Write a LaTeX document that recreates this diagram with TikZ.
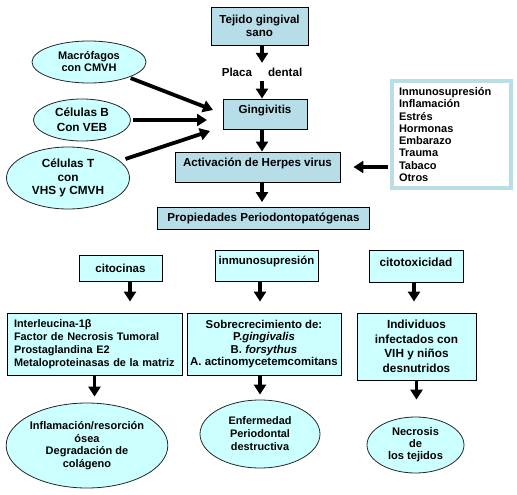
\documentclass[tikz,border=0pt]{standalone}
\usepackage{fontspec}
\setmainfont{Liberation Sans}
\usetikzlibrary{arrows.meta,shapes.geometric}
\definecolor{boxteal}{RGB}{183,221,232}
\definecolor{boxcyan}{RGB}{204,255,255}
\definecolor{listrim}{RGB}{186,222,230}

\begin{document}
\begin{tikzpicture}[x=1pt,y=-1pt,
    box/.style={draw,line width=0.9pt,fill=boxteal,inner sep=0pt,align=center,
      font=\fontsize{11.6}{13}\selectfont\bfseries},
    cbox/.style={box,fill=boxcyan},
    bubble/.style={ellipse,draw=black!85,line width=0.8pt,fill=boxcyan,inner sep=0pt,align=center,
      font=\fontsize{11.2}{12.8}\selectfont\bfseries},
    blk/.style={line width=3.8pt,-{Triangle[width=12pt,length=10pt]}}]

    \useasboundingbox (0,0) rectangle (517,495);

    \node [box,minimum width=97pt,minimum height=38pt] (tejido) at (259.5,26) {Tejido gingival\\sano};
    \node [inner sep=0pt,minimum height=18pt,font=\fontsize{11.6}{13}\selectfont\bfseries] (placa) at (262,72) {Placa\hspace{16pt}dental};
    \node [box,minimum width=84pt,minimum height=30pt,text depth=10pt] (gingivitis) at (265,114) {Gingivitis};
    \node [box,minimum width=165pt,minimum height=30pt,text depth=10pt] (activacion) at (257.5,167) {Activación de Herpes virus};
    \node [box,minimum width=212pt,minimum height=22pt] (propiedades) at (263.5,218.5) {Propiedades Periodontopatógenas};
    \coordinate (spine) at (262,0);

    \node [bubble,minimum width=114pt,minimum height=42pt,font=\fontsize{11}{12}\selectfont\bfseries] (macrofagos) at (89,62) {Macrófagos\\con CMVH};
    \node [bubble,minimum width=97pt,minimum height=42pt,font=\fontsize{11.8}{15}\selectfont\bfseries] (celulasb) at (82,120) {Células B\\Con VEB};
    \node [bubble,minimum width=123pt,minimum height=62pt,font=\fontsize{11.8}{13.5}\selectfont\bfseries] (celulast) at (68,178) {Células T\\con\\VHS y CMVH};
    \coordinate (gm) at (213,110);
    \coordinate (gb) at (207,120);
    \coordinate (gt) at (210,131);

    \node [draw=listrim,line width=4pt,fill=white,inner sep=0pt,minimum width=119pt,minimum height=107pt,
      text width=105pt,align=left,font=\fontsize{11}{12.3}\selectfont\bfseries] (lista) at (451.5,134.5)
      {Inmunosupresión\\Inflamación\\Estrés\\Hormonas\\Embarazo\\Trauma\\Tabaco\\Otros};

    \node [cbox,minimum width=83pt,minimum height=26pt] (citocinas) at (120.5,268) {citocinas};
    \node [cbox,minimum width=103pt,minimum height=31pt,text depth=9.4pt,font=\fontsize{11.4}{13}\selectfont\bfseries] (inmuno) at (266.5,265.5) {inmunosupresión};
    \node [cbox,minimum width=94pt,minimum height=32pt,text depth=8pt,font=\fontsize{11.8}{13}\selectfont\bfseries] (citotox) at (416,266) {citotoxicidad};

    \node [cbox,minimum width=175pt,minimum height=62pt,text width=161pt,align=left,font=\fontsize{10.9}{12.8}\selectfont\bfseries] (interleucina) at (94.5,344)
      {Interleucina-1β\\Factor de Necrosis Tumoral\\Prostaglandina E2\\Metaloproteinasas de la matriz};
    \node [cbox,minimum width=154pt,minimum height=62pt,font=\fontsize{11.4}{12.5}\selectfont\bfseries] (sobre) at (264,344)
      {Sobrecrecimiento de:\\P.\textit{gingivalis}\\B. \textit{forsythus}\\A. actinomycetemcomitans};
    \node [cbox,minimum width=119pt,minimum height=67pt,font=\fontsize{11.8}{14.5}\selectfont\bfseries] (individuos) at (416.5,346.5)
      {Individuos\\infectados con\\VIH y niños\\desnutridos};

    \node [bubble,minimum width=160pt,minimum height=85pt,font=\fontsize{11}{12.7}\selectfont\bfseries] (inflamacion) at (87,445.5)
      {Inflamación/resorción\\ósea\\Degradación de\\colágeno};
    \node [bubble,minimum width=120pt,minimum height=68pt,font=\fontsize{10.9}{13}\selectfont\bfseries] (enfermedad) at (260,434)
      {Enfermedad\\Periodontal\\destructiva};
    \node [bubble,minimum width=97pt,minimum height=56pt,font=\fontsize{11.1}{12}\selectfont\bfseries] (necrosis) at (415.5,445)
      {Necrosis\\de\\los tejidos};

    \draw [blk] (tejido.south -| spine) -- (placa.north -| spine);
    \draw [blk] (placa.south -| spine) -- (gingivitis.north -| spine);
    \draw [blk] (gingivitis.south -| spine) -- (activacion.north -| spine);
    \draw [blk,shorten >=5pt] (activacion.south -| spine) -- (propiedades.north -| spine);

    \draw [blk,shorten <=2pt] (macrofagos) -- (gm);
    \draw [blk,shorten <=2pt] (celulasb) -- (gb);
    \draw [blk,shorten <=6pt] (celulast) -- (gt);
    \draw [blk,shorten <=2pt,shorten >=13pt] (activacion.east -| lista.west) -- (activacion.east);

    \draw [blk,shorten >=11pt] ([xshift=9.5pt]citocinas.south) -- ([xshift=9.5pt]citocinas.south |- interleucina.north);
    \draw [blk,shorten >=11pt] ([xshift=-6.5pt]inmuno.south) -- ([xshift=-6.5pt]inmuno.south |- sobre.north);
    \draw [blk,shorten >=11pt] ([xshift=-2pt]citotox.south) -- ([xshift=-2pt]citotox.south |- individuos.north);

    \draw [blk,shorten >=6pt] (interleucina.south) -- (interleucina.south |- inflamacion.north);
    \draw [blk,shorten >=5pt] (sobre.south -| enfermedad.north) -- (enfermedad.north);
    \draw [blk,shorten >=17pt] (individuos.south) -- (individuos.south |- necrosis.north);

\end{tikzpicture}
\end{document}
